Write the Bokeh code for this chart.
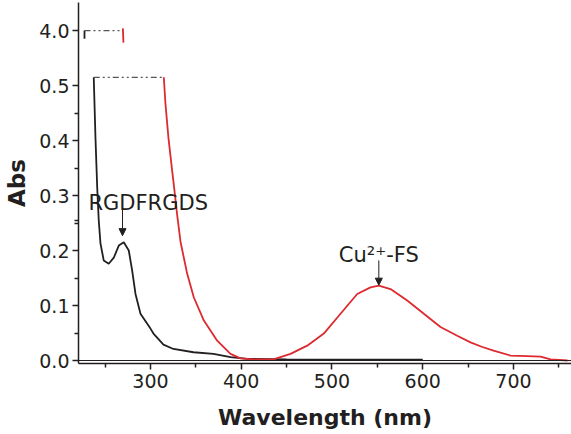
from bokeh.plotting import figure
from bokeh.models import Range1d, FixedTicker, Span, Arrow, NormalHead
from bokeh.core.properties import value
from bokeh.embed import file_html
from bokeh.resources import INLINE

# ---- data ----
black_nm = [237.5, 239.4, 241.3, 243.0, 244.9, 248.5, 254.0, 259.6, 265.1, 270.6, 276.1,
            279.8, 283.5, 289.0, 300.0, 303.3, 314.3, 325.3, 347.4, 369.4, 388.2, 406.9,
            450.0, 500.0, 550.0, 600.0]
black_abs = [0.515, 0.405, 0.315, 0.255, 0.213, 0.182, 0.176, 0.187, 0.209, 0.215, 0.200,
             0.164, 0.121, 0.085, 0.058, 0.049, 0.029, 0.021, 0.015, 0.012, 0.006, 0.003,
             0.002, 0.0015, 0.0015, 0.0015]

red_nm = [314.7, 316.5, 319.8, 323.9, 325.7, 329.4, 333.1, 340.4, 347.7, 358.7, 373.5,
          388.2, 399.2, 413.5, 435.5, 454.3, 472.7, 491.0, 509.4, 527.8, 542.4, 551.6,
          564.5, 582.9, 601.2, 619.6, 638.0, 652.6, 665.0, 678.0, 696.7, 715.0, 729.8,
          740.8, 759.5]
red_abs = [0.515, 0.467, 0.405, 0.345, 0.320, 0.265, 0.216, 0.158, 0.115, 0.073, 0.036,
           0.012, 0.004, 0.002, 0.002, 0.012, 0.027, 0.049, 0.085, 0.121, 0.133, 0.136,
           0.130, 0.109, 0.085, 0.061, 0.045, 0.033, 0.025, 0.018, 0.009, 0.008, 0.007,
           0.002, 0.0]

# segments above the axis break (around Abs = 4.0)
upper_black_nm = [227.3, 227.3]
upper_black_abs = [4.0, 3.85]
upper_red_nm = [269.6, 270.2]
upper_red_abs = [4.04, 3.78]

x_ticks = [300, 400, 500, 600, 700]
x_minor = [250, 350, 450, 550, 650, 750]
y_tick_values = [0.0, 0.1, 0.2, 0.3, 0.4, 0.5, 4.0]
y_tick_labels = ["0.0", "0.1", "0.2", "0.3", "0.4", "0.5", "4.0"]
y_minor_values = [0.05, 0.15, 0.25, 0.35, 0.45, 0.55]

labels = ["RGDFRGDS", "Cu\u00b2\u207a-FS"]

INK = "#231f20"
RED = "#dc2a2f"
FONT = "DejaVu Sans"


def disp(v):
    """Map absorbance to the broken-axis display scale."""
    return v if v <= 0.52 else 0.6 + (v - 4.0) * 0.1


p = figure(width=571, height=434, output_backend="svg", toolbar_location=None,
           x_range=Range1d(220.7, 763.9), y_range=Range1d(-0.00545, 0.651),
           min_border_left=78, min_border_right=0, min_border_top=2,
           min_border_bottom=71)
p.outline_line_color = None
p.xgrid.visible = False
p.ygrid.visible = False
p.background_fill_color = "white"

# baseline at zero
p.add_layout(Span(location=0, dimension="width", line_color=INK, line_width=1))

# curves
p.line(black_nm, [disp(v) for v in black_abs], line_color=INK, line_width=1.8)
p.line(red_nm, [disp(v) for v in red_abs], line_color=RED, line_width=1.8)
p.line(upper_black_nm, [disp(v) for v in upper_black_abs], line_color=INK, line_width=1.8)
p.line(upper_red_nm, [disp(v) for v in upper_red_abs], line_color=RED, line_width=1.8)

# break connectors (dash-dot)
p.line([black_nm[0], red_nm[0]], [disp(black_abs[0]), disp(red_abs[0])],
       line_color="#555555", line_width=1.2, line_dash="6 3 2 3 2 3")
p.line([upper_black_nm[0], upper_red_nm[0]], [disp(4.0), disp(4.0)],
       line_color="#555555", line_width=1.2, line_dash="6 3 2 3 2 3")

# annotations: arrows pointing at peaks
sub = [i for i, x in enumerate(black_nm) if 255 < x < 290]
bi = max(sub, key=lambda i: black_abs[i])
b_peak_x, b_peak_y = black_nm[bi] - 1.4, black_abs[bi]
ri = max(range(len(red_abs)), key=lambda i: red_abs[i] if red_nm[i] > 450 else -1)
r_peak_x, r_peak_y = red_nm[ri], red_abs[ri]

head = dict(size=7, fill_color=INK, line_color=INK)
p.add_layout(Arrow(end=NormalHead(**head), x_start=b_peak_x, y_start=b_peak_y + 0.064,
                   x_end=b_peak_x, y_end=b_peak_y + 0.012, line_color=INK, line_width=1))
p.add_layout(Arrow(end=NormalHead(**head), x_start=r_peak_x, y_start=r_peak_y + 0.046,
                   x_end=r_peak_x, y_end=r_peak_y + 0.001, line_color=INK, line_width=1))

p.text(x=[b_peak_x - 37.5], y=[b_peak_y + 0.072], text=[labels[0]],
       text_font=value(FONT), text_font_size="21px", text_align="left",
       text_baseline="alphabetic", text_color=INK)
p.text(x=[r_peak_x], y=[r_peak_y + 0.055], text=[labels[1]],
       text_font=value(FONT), text_font_size="21px", text_align="center",
       text_baseline="alphabetic", text_color=INK)

# axes
p.xaxis.ticker = FixedTicker(ticks=x_ticks, minor_ticks=x_minor)
y_pos = [disp(v) for v in y_tick_values]
p.yaxis.ticker = FixedTicker(ticks=y_pos, minor_ticks=[disp(v) for v in y_minor_values])
p.yaxis.major_label_overrides = dict(zip(y_pos, y_tick_labels))

for ax in (p.xaxis[0], p.yaxis[0]):
    ax.axis_line_color = INK
    ax.axis_line_width = 1.5
    ax.major_tick_line_color = INK
    ax.major_tick_line_width = 1.5
    ax.minor_tick_line_color = INK
    ax.minor_tick_line_width = 1.5
    ax.major_tick_in = 0
    ax.major_tick_out = 6
    ax.minor_tick_in = 0
    ax.minor_tick_out = 4
    ax.major_label_text_font = FONT
    ax.major_label_text_font_size = "19px"
    ax.major_label_text_color = INK
    ax.axis_label_text_font = FONT
    ax.axis_label_text_font_style = "bold"
    ax.axis_label_text_color = INK

p.xaxis.axis_label = "Wavelength (nm)"
p.xaxis.axis_label_text_font_size = "22px"
p.xaxis.major_label_standoff = 4
p.xaxis.axis_label_standoff = 14
p.yaxis.axis_label = "Abs"
p.yaxis.axis_label_text_font_size = "23px"
p.yaxis.major_label_standoff = 3
p.yaxis.axis_label_standoff = 6

open("out.html", "w").write(file_html(p, INLINE))
